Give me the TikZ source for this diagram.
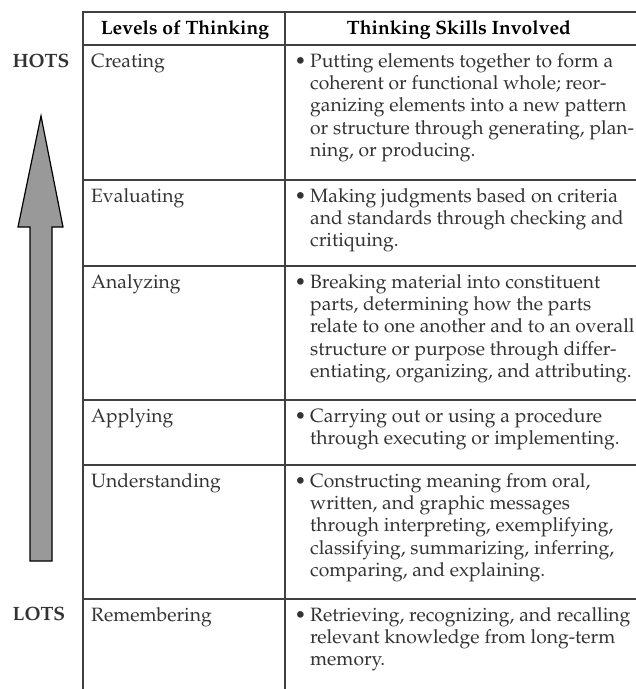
\documentclass[tikz,border=0pt]{standalone}
\usepackage[T1]{fontenc}
\usepackage{mathpazo}
\definecolor{ink}{gray}{0.2}
\definecolor{rule}{gray}{0.25}
\definecolor{shaft}{gray}{0.6}
\newcommand{\skills}[1]{\begin{tabular}[t]{@{}l@{}}\llap{\textbullet\hspace{4pt}}#1\end{tabular}}
\begin{document}
\begin{tikzpicture}[x=1pt,y=-1pt]
    \tikzset{%
      cell/.style={anchor=base west, inner sep=0pt, ink,
        font=\fontsize{19.3}{22.4}\selectfont},
      head/.style={anchor=base, inner sep=0pt,
        font=\fontsize{19.3}{22.4}\selectfont\bfseries},
      side/.style={anchor=base, inner sep=0pt, ink,
        font=\fontsize{19.3}{22.4}\selectfont\bfseries},
      grid/.style={rule, line width=1.6pt},
    }
    \useasboundingbox (0,0) rectangle (636,689);
    % table lines
    \draw [grid] (83,689) -- (83,12) -- (640,12);
    \draw [grid] (285,12) -- (285,689);
    \foreach \y in {45,180,266,400,465,599}
      \draw [grid] (83,\y) -- (640,\y);

    \node[head] (H1) at (185,34) {Levels of Thinking};
    \node[head] (H2) at (459,34) {Thinking Skills Involved};

    \node[cell] (L1) at (91,67) {Creating};
    \node[cell] (S1) at (310,67) {\skills{Putting elements together to form a\\
      coherent or functional whole; reor-\\
      ganizing elements into a new pattern\\
      or structure through generating, plan-\\
      ning, or producing.}};

    \node[cell] (L2) at (91,202) {Evaluating};
    \node[cell] (S2) at (310,202) {\skills{Making judgments based on criteria\\
      and standards through checking and\\
      critiquing.}};

    \node[cell] (L3) at (91,288) {Analyzing};
    \node[cell] (S3) at (310,288) {\skills{Breaking material into constituent\\
      parts, determining how the parts\\
      relate to one another and to an overall\\
      structure or purpose through differ-\\
      entiating, organizing, and attributing.}};

    \node[cell] (L4) at (91,422) {Applying};
    \node[cell] (S4) at (310,422) {\skills{Carrying out or using a procedure\\
      through executing or implementing.}};

    \node[cell] (L5) at (91,487) {Understanding};
    \node[cell] (S5) at (310,487) {\skills{Constructing meaning from oral,\\
      written, and graphic messages\\
      through interpreting, exemplifying,\\
      classifying, summarizing, inferring,\\
      comparing, and explaining.}};

    \node[cell] (L6) at (91,621) {Remembering};
    \node[cell] (S6) at (310,621) {\skills{Retrieving, recognizing, and recalling\\
      relevant knowledge from long-term\\
      memory.}};

    % arrow
    \draw [line width=1.2pt, fill=shaft] (41,116) -- (63,227) -- (52,227)
      -- (52,561) -- (30,561) -- (30,227) -- (18,227) -- cycle;
    \node[side] (hots) at (41,67) {HOTS};
    \node[side] (lots) at (39,620) {LOTS};
\end{tikzpicture}
\end{document}
